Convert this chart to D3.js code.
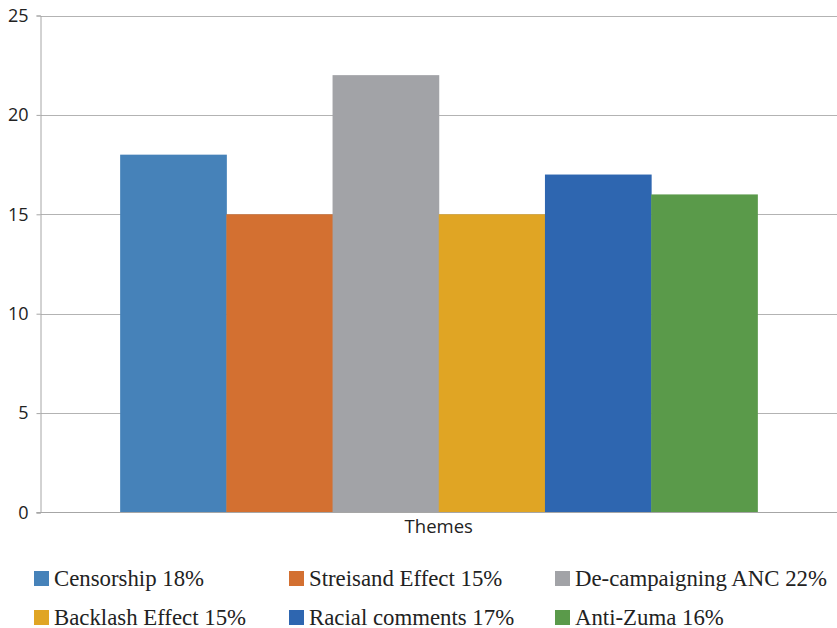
<!DOCTYPE html>
<html>
<head>
<meta charset="utf-8">
<script src="https://cdn.jsdelivr.net/npm/d3@7"></script>
<style>
  html, body { margin: 0; padding: 0; background: #fff; }
  svg { display: block; }
</style>
</head>
<body>
<svg id="chart" width="837" height="628"></svg>
<script>
// Share of posts per theme
const themes = ["Censorship", "Streisand Effect", "De-campaigning ANC", "Backlash Effect", "Racial comments", "Anti-Zuma"];
const values = [18, 15, 22, 15, 17, 16];
const legendLabels = ["Censorship 18%", "Streisand Effect 15%", "De-campaigning ANC 22%", "Backlash Effect 15%", "Racial comments 17%", "Anti-Zuma 16%"];
const colors = ["#4682B9", "#D37031", "#A2A3A7", "#E0A524", "#2E66B0", "#5A9A4A"];
const yTicks = [0, 5, 10, 15, 20, 25];
const category = "Themes";

const svg = d3.select("#chart");
const plot = { left: 40.5, right: 837, top: 15.5, bottom: 512.5 };

const y = d3.scaleLinear().domain([0, 25]).range([plot.bottom, plot.top]);
const xCat = d3.scaleBand().domain([category]).range([plot.left, plot.right]).paddingInner(0).paddingOuter(0.125);
const xSeries = d3.scaleBand().domain(themes).range([0, xCat.bandwidth()]);

// gridlines
svg.append("g")
  .selectAll("line")
  .data(yTicks.filter(d => d > 0))
  .join("line")
  .attr("x1", plot.left).attr("x2", plot.right)
  .attr("y1", d => Math.round(y(d)) + 0.5).attr("y2", d => Math.round(y(d)) + 0.5)
  .attr("stroke", "#b3b3b3").attr("stroke-width", 1);

// bars
svg.append("g")
  .selectAll("rect")
  .data(themes.map((t, i) => ({ t, v: values[i], c: colors[i] })))
  .join("rect")
  .attr("x", d => xCat(category) + xSeries(d.t))
  .attr("width", xSeries.bandwidth() + 0.5)
  .attr("y", d => y(d.v))
  .attr("height", d => y(0) - y(d.v))
  .attr("fill", d => d.c);

// y axis
const yAxis = d3.axisLeft(y).tickValues(yTicks).tickSize(4).tickPadding(8).tickFormat(d3.format("d"));
const gy = svg.append("g").attr("transform", `translate(${plot.left},0)`).call(yAxis);
gy.select(".domain").attr("stroke", "#a6a6a6");
gy.selectAll(".tick line").attr("stroke", "#a6a6a6");
gy.selectAll(".tick text")
  .attr("font-family", "'Open Sans', 'DejaVu Sans', sans-serif")
  .attr("font-size", 18).attr("fill", "#222");

// x axis baseline
svg.append("line")
  .attr("x1", plot.left - 4).attr("x2", plot.right)
  .attr("y1", plot.bottom).attr("y2", plot.bottom)
  .attr("stroke", "#a6a6a6");

// category label
svg.append("text")
  .attr("x", xCat(category) + xCat.bandwidth() / 2)
  .attr("y", 533)
  .attr("text-anchor", "middle")
  .attr("font-family", "'Open Sans', 'DejaVu Sans', sans-serif")
  .attr("font-size", 18.5).attr("fill", "#222")
  .text(category);

// legend
const colX = [34, 289, 555];
const rowY = [571, 610];
const legend = svg.append("g")
  .selectAll("g")
  .data(legendLabels.map((l, i) => ({ l, c: colors[i], col: i % 3, row: Math.floor(i / 3) })))
  .join("g")
  .attr("transform", d => `translate(${colX[d.col]},${rowY[d.row]})`);
legend.append("rect").attr("width", 15).attr("height", 15).attr("fill", d => d.c);
legend.append("text")
  .attr("x", 20).attr("y", 14.5)
  .attr("font-family", "'Liberation Serif', 'Times New Roman', serif")
  .attr("font-size", 22.8).attr("fill", "#222")
  .text(d => d.l);
</script>
</body>
</html>
